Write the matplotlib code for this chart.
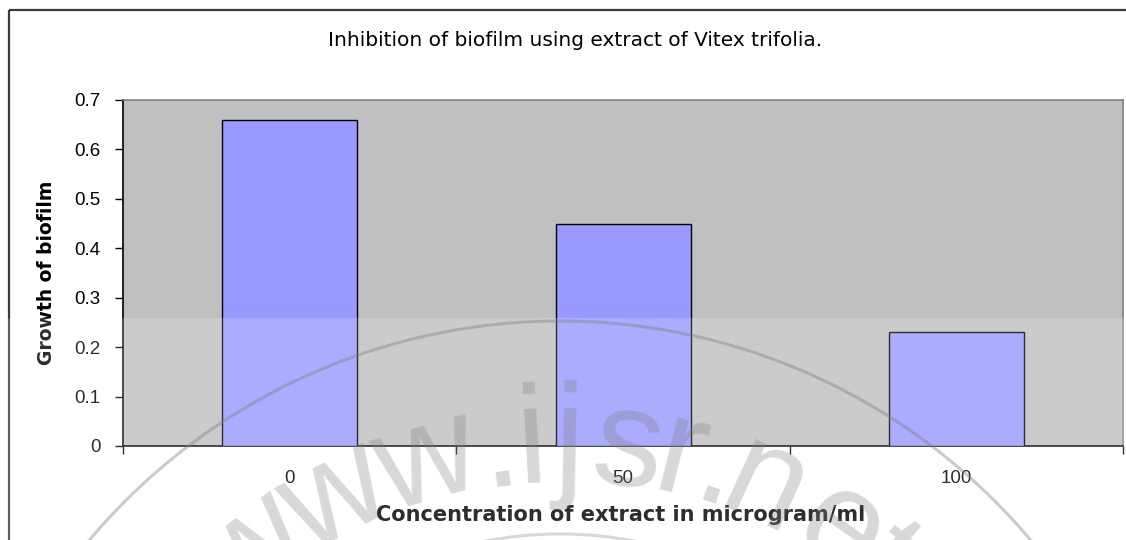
import numpy as np
import matplotlib
matplotlib.use("Agg")
import matplotlib.pyplot as plt
from matplotlib.patches import Rectangle, Arc

# Chart data
concentrations = ["0", "50", "100"]
growth = [0.66, 0.45, 0.23]
y_ticks = [0, 0.1, 0.2, 0.3, 0.4, 0.5, 0.6, 0.7]

TITLE = "Inhibition of biofilm using extract of Vitex trifolia."
XLABEL = "Concentration of extract in microgram/ml"
YLABEL = "Growth of biofilm"

# Watermark (site stamp over the scanned figure)
WM_CHARS = list("www.ijsr.net")
WM_ANGLES = [-38.5, -27.2, -15.8, -7.2, -3.3, 1.0, 7.9, 14.2, 18.9, 24.6, 34.8, 41.0]

plt.rcParams['font.family'] = ['Liberation Sans', 'DejaVu Sans']

W, H = 1126, 540
fig = plt.figure(figsize=(W / 100, H / 100), dpi=100)
fig.patch.set_facecolor('white')

# Plot area in pixels: x 123..1123, y 100..446
ax = fig.add_axes([123 / W, 1 - 446 / H, 1000 / W, 346 / H])
ax.set_facecolor('#c0c0c0')

x = np.arange(len(concentrations))
ax.bar(x, growth, width=0.405, color='#9999ff', edgecolor='black', linewidth=1.0, zorder=3)

ax.set_xlim(-0.5, len(concentrations) - 0.5)
ax.set_ylim(0, 0.7)
ax.set_yticks(y_ticks)
ax.set_yticklabels([f"{t:g}" for t in y_ticks], fontsize=13.5)
ax.tick_params(axis='y', direction='out', length=6, width=1, pad=10)

# category boundaries carry the ticks, labels sit between them
ax.set_xticks(np.arange(len(concentrations) + 1) - 0.5)
ax.set_xticklabels([])
ax.tick_params(axis='x', which='major', direction='out', length=6, width=1)
ax.set_xticks(x, minor=True)
ax.set_xticklabels(concentrations, minor=True, fontsize=13.5)
ax.tick_params(axis='x', which='minor', length=0, pad=17)

for side in ['top', 'right']:
    ax.spines[side].set_color('#808080')
    ax.spines[side].set_linewidth(1.2)
for side in ['left', 'bottom']:
    ax.spines[side].set_color('black')
    ax.spines[side].set_linewidth(1.2)

ax.set_ylabel(YLABEL, fontsize=13.5, fontweight='bold', family='DejaVu Sans')
ax.yaxis.set_label_coords(-0.067, 0.5)
ax.set_xlabel(XLABEL, fontsize=15, fontweight='bold', family='DejaVu Sans', va='center')
ax.xaxis.set_label_coords(0.498, -0.2)

fig.text(575 / W, 1 - 41 / H, TITLE, ha='center', va='center', fontsize=14.5, family='DejaVu Sans')

# Overlay in pixel coordinates: chart border and watermark
ov = fig.add_axes([0, 0, 1, 1], zorder=10)
ov.set_xlim(0, W)
ov.set_ylim(H, 0)
ov.axis('off')
ov.patch.set_alpha(0)

ov.add_patch(Rectangle((8.5, 9.5), 1300, 700, fill=False, ec='#3a3a3a', lw=1.6, zorder=1))

# lighter band of the stamp
ov.add_patch(Rectangle((0, 318), W, H - 318, fc='white', ec='none', alpha=0.18, zorder=2))

cx, cy = 560, 936
ov.add_patch(Arc((cx, cy), 2 * 615, 2 * 615, theta1=180, theta2=360,
                 ec='#7f7f7f', lw=2.2, alpha=0.4, zorder=3))
ov.add_patch(Arc((cx, cy), 2 * 402, 2 * 402, theta1=180, theta2=360,
                 ec='#7f7f7f', lw=2.2, alpha=0.3, zorder=3))

r_base = 455
for ch, ang in zip(WM_CHARS, WM_ANGLES):
    t = np.radians(ang)
    px = cx + r_base * np.sin(t)
    py = cy - r_base * np.cos(t)
    ov.text(px, py, ch, fontsize=100, color='#7f7f7f', alpha=0.3,
            ha='center', va='baseline', rotation=-ang, rotation_mode='anchor', zorder=4)

fig.savefig('out.png', dpi=100)
